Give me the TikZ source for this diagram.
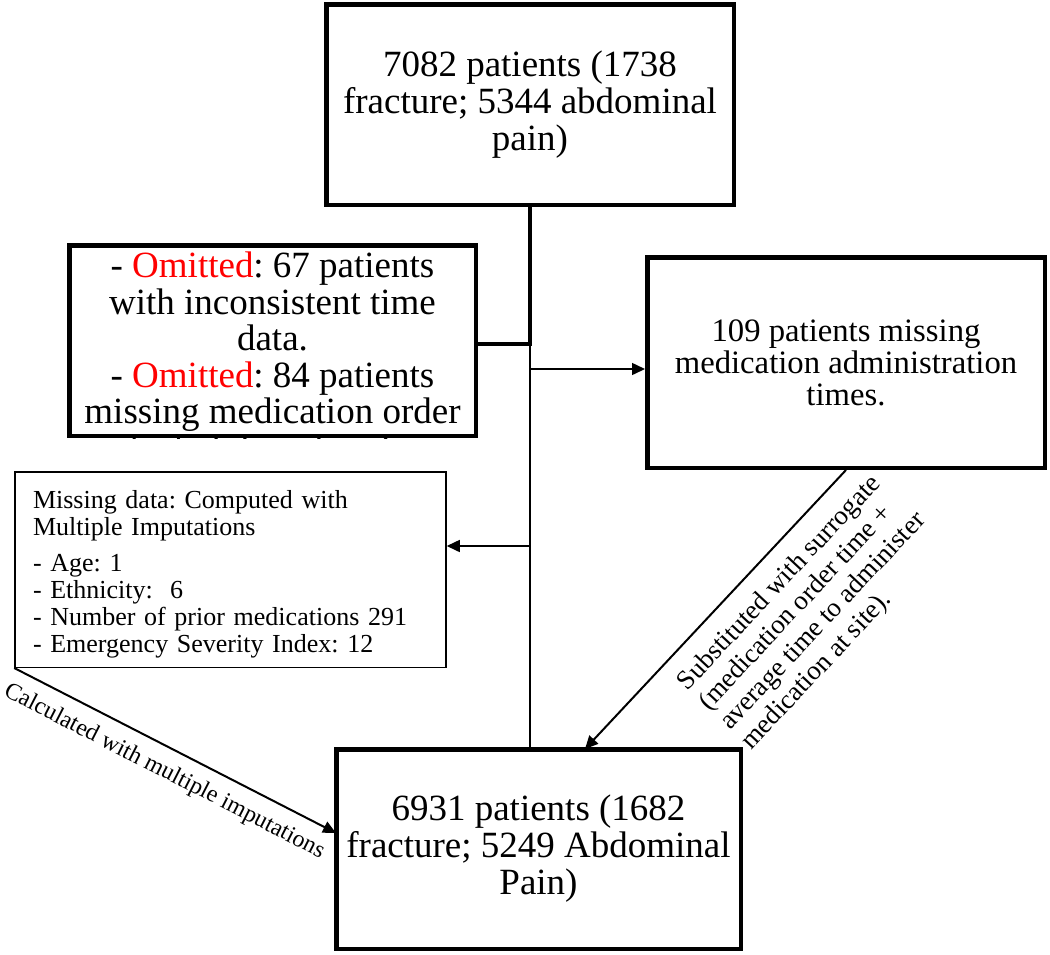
\documentclass[tikz,border=0pt]{standalone}
\usepackage{fontspec}
\setmainfont{Liberation Serif}
\usetikzlibrary{arrows.meta,positioning}
\frenchspacing

\begin{document}
\begin{tikzpicture}[x=1pt,y=-1pt,
    bigbox/.style={draw,line width=4.5pt,inner sep=0pt,align=center},
    thinbox/.style={draw,line width=1.5pt},
    flow/.style={line width=1.5pt,-{Triangle[length=13pt,width=12pt]}},
    lbl/.style={align=left,inner sep=0pt}]
\useasboundingbox (0,0) rectangle (1050,954);

% Kaesten
\node[bigbox,minimum width=407.5pt,minimum height=200.5pt,font=\fontsize{37}{37}\selectfont]
    (total) at (530,104.5) {7082 patients (1738\\fracture; 5344 abdominal\\pain)};
\node[bigbox,minimum width=406.5pt,minimum height=190.5pt] (omitted) at (272.5,340.5) {};
\node[bigbox,minimum width=397.5pt,minimum height=210.5pt,font=\fontsize{32.7}{32}\selectfont]
    (missingadmin) at (846,362.5) {109 patients missing\\medication administration\\times.};
\node[thinbox,inner xsep=18pt,inner ysep=0pt,text width=395pt,minimum height=195.5pt,
    align=left,font=\fontsize{26}{27}\selectfont]
    (imputed) at (230.5,569.5) {\rule{0pt}{28pt}Missing data: Computed with\\Multiple Imputations\\[9pt]- Age: 1\\- Ethnicity:\ \ 6\\- Number of prior medications 291\\- Emergency Severity Index: 12};
\node[bigbox,minimum width=404.5pt,minimum height=199.5pt,font=\fontsize{37}{37}\selectfont]
    (final) at (538.5,849) {6931 patients (1682\\fracture; 5249 Abdominal\\Pain)};

% abgeschnittener Text im Kasten
\begin{scope}
\clip (omitted.south west) rectangle (omitted.north east);
\node[anchor=north,inner sep=0pt,align=center,font=\fontsize{37}{36.5}\selectfont]
    (omittedtext) at (272.5,252) {- \textcolor{red}{Omitted}: 67 patients\\with inconsistent time\\data.\\- \textcolor{red}{Omitted}: 84 patients\\missing medication order\\and administration times.};
\end{scope}

% Verbindungen
\coordinate (split) at (530,344);
\coordinate (toadmin) at (530,369);
\coordinate (toimp) at (530,546);
\coordinate (calcin) at (336,833);
\coordinate (subin) at (585,749);
\draw[line width=4.5pt] (total.south) -- (split) -- (split -| omitted.east);
\draw[line width=1.5pt] (split) -- (split |- final.north);
\draw[flow] (toadmin) -- (toadmin -| missingadmin.west);
\draw[flow] (toimp) -- (toimp -| imputed.east);
\draw[flow,line width=2pt] (imputed.south west) -- node[lbl,sloped,below=12pt,pos=0.5,font=\fontsize{24}{28}\selectfont] {Calculated with multiple imputations} (calcin);
\draw[flow,line width=2pt] (missingadmin.south) -- node[lbl,sloped,below=16pt,pos=0.33,font=\fontsize{27}{29}\selectfont] {Substituted with surrogate\\(medication order time +\\average time to administer\\medication at site).} (subin);
\end{tikzpicture}
\end{document}
